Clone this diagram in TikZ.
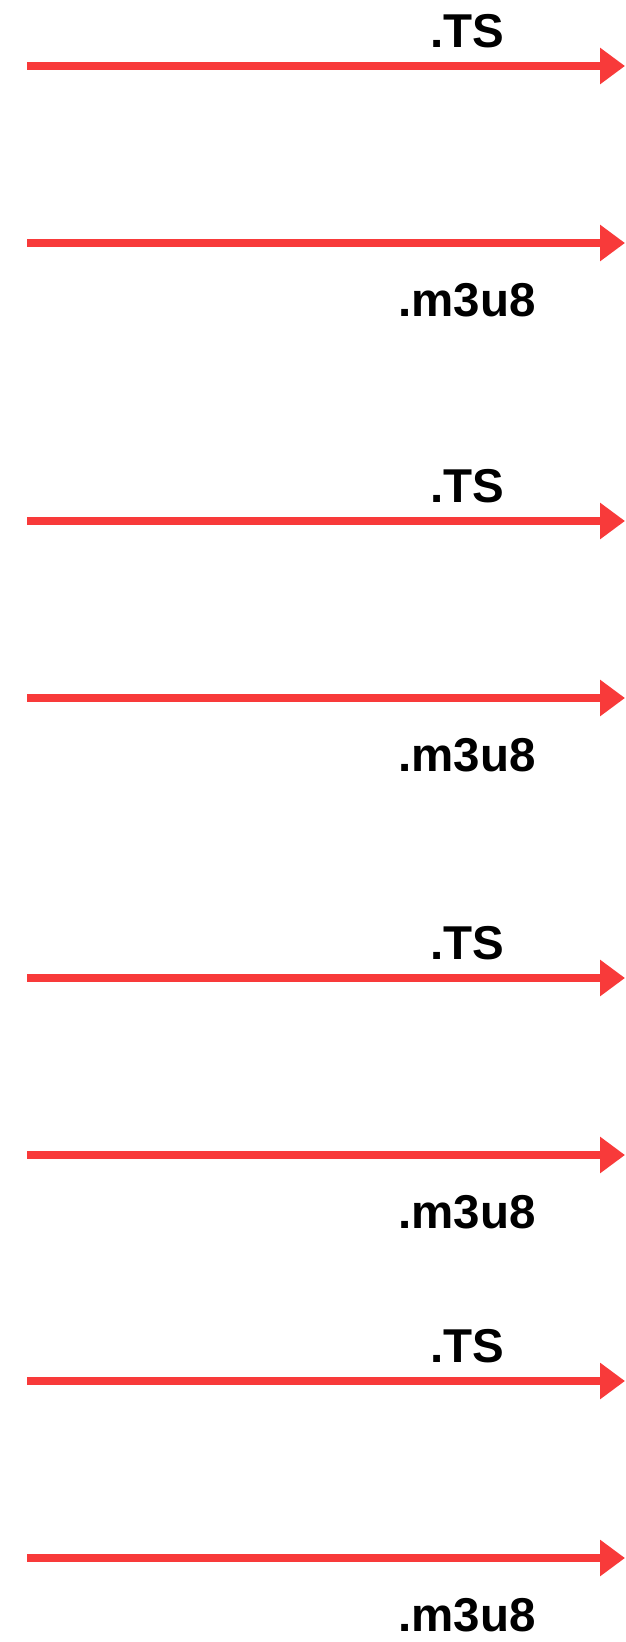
\documentclass[tikz,border=0pt]{standalone}
\usepackage{fontspec}
\setmainfont{Liberation Sans}
\usetikzlibrary{arrows.meta,positioning}
\definecolor{arrowred}{RGB}{248,58,58}

\begin{document}
\begin{tikzpicture}[x=1pt, y=-1pt,
    flowarrow/.style={-{Triangle[length=25pt, width=35pt]}, line width=7.5pt, arrowred},
    ext/.style={font=\fontsize{47.5}{50}\selectfont\bfseries, text=black, anchor=base, inner sep=0pt}
]
    \useasboundingbox (0,0) rectangle (625,1642);

    % Ends of the arrows
    \coordinate (s1) at (27,66);   \coordinate (e1) at (625,66);
    \coordinate (s2) at (27,243);  \coordinate (e2) at (625,243);
    \coordinate (s3) at (27,521);  \coordinate (e3) at (625,521);
    \coordinate (s4) at (27,698);  \coordinate (e4) at (625,698);
    \coordinate (s5) at (27,978);  \coordinate (e5) at (625,978);
    \coordinate (s6) at (27,1155); \coordinate (e6) at (625,1155);
    \coordinate (s7) at (27,1381); \coordinate (e7) at (625,1381);
    \coordinate (s8) at (27,1558); \coordinate (e8) at (625,1558);

    % Segment labels
    \node[ext] (ts1) at (467,47) {.TS};
    \node[ext] (m3u1) at (467,316) {.m3u8};
    \node[ext] (ts2) at (467,502) {.TS};
    \node[ext] (m3u2) at (467,771) {.m3u8};
    \node[ext] (ts3) at (467,959) {.TS};
    \node[ext] (m3u3) at (467,1228) {.m3u8};
    \node[ext] (ts4) at (467,1362) {.TS};
    \node[ext] (m3u4) at (467,1631) {.m3u8};

    % Arrows
    \draw[flowarrow] (s1) -- (e1);
    \draw[flowarrow] (s2) -- (e2);
    \draw[flowarrow] (s3) -- (e3);
    \draw[flowarrow] (s4) -- (e4);
    \draw[flowarrow] (s5) -- (e5);
    \draw[flowarrow] (s6) -- (e6);
    \draw[flowarrow] (s7) -- (e7);
    \draw[flowarrow] (s8) -- (e8);
\end{tikzpicture}
\end{document}
